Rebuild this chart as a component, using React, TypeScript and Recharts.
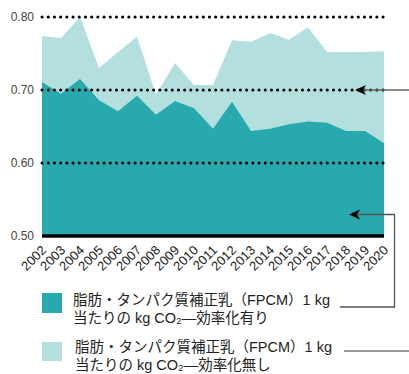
import React from 'react';
import { AreaChart, Area, XAxis, YAxis, ReferenceLine } from 'recharts';

const years = ['2002', '2003', '2004', '2005', '2006', '2007', '2008', '2009', '2010', '2011',
  '2012', '2013', '2014', '2015', '2016', '2017', '2018', '2019', '2020'];
const withEfficiency = [0.711, 0.695, 0.715, 0.686, 0.671, 0.692, 0.666, 0.685, 0.675, 0.647,
  0.684, 0.644, 0.647, 0.653, 0.657, 0.655, 0.644, 0.644, 0.627];
const withoutEfficiency = [0.774, 0.771, 0.8, 0.73, 0.752, 0.773, 0.694, 0.737, 0.707, 0.707,
  0.768, 0.766, 0.778, 0.769, 0.786, 0.752, 0.752, 0.752, 0.753];
const yTicks = [0.5, 0.6, 0.7, 0.8];
const gridLevels = [0.6, 0.7, 0.8];

const legendLine1 = '脂肪・タンパク質補正乳（FPCM）1 kg';
const legendWith = '当たりの kg CO₂—効率化有り';
const legendWithout = '当たりの kg CO₂—効率化無し';

const DARK = '#27a9ae';
const LIGHT = '#b3dfdf';
const FONT = '"Liberation Sans", Arial, "Noto Sans CJK JP", sans-serif';

const data = years.map((y, i) => ({
  year: y,
  withEff: withEfficiency[i],
  withoutEff: withoutEfficiency[i],
}));

const legendText: React.CSSProperties = {
  position: 'absolute',
  fontFamily: FONT,
  fontSize: 14.5,
  lineHeight: '18px',
  color: '#222',
  whiteSpace: 'nowrap',
};

// rotated year label, text ends just right of the tick
const YearTick = (props: any) => {
  const { x, y, payload } = props;
  return (
    <g transform={`translate(${x + 5},${y + 7})`}>
      <text x={0} y={0} textAnchor="end" transform="rotate(-45)" fontSize={13} fill="#222" fontFamily={FONT}>
        {payload.value}
      </text>
    </g>
  );
};

export default function App() {
  return (
    <div style={{ position: 'relative', width: 409, height: 374, overflow: 'hidden', fontFamily: FONT }}>
      <style>{'body{margin:0}'}</style>
      <AreaChart width={409} height={290} data={data} margin={{ top: 17, right: 25, left: 0, bottom: 0 }}>
        <YAxis
          domain={[0.5, 0.8]}
          ticks={yTicks}
          width={42}
          axisLine={false}
          tickLine={false}
          tickFormatter={(v: number) => v.toFixed(2)}
          tick={{ fontSize: 12, fill: '#444', fontFamily: FONT }}
        />
        <XAxis
          dataKey="year"
          interval={0}
          axisLine={false}
          tickLine={false}
          height={54}
          tick={<YearTick />}
        />
        <Area type="linear" dataKey="withoutEff" stroke="none" fill={LIGHT} fillOpacity={1} isAnimationActive={false} />
        <Area type="linear" dataKey="withEff" stroke="none" fill={DARK} fillOpacity={1} isAnimationActive={false} />
        {gridLevels.map(v => (
          <ReferenceLine key={v} y={v} stroke="#000" strokeWidth={3} strokeDasharray="0.1 6.1" strokeLinecap="round" />
        ))}
        <ReferenceLine y={0.5} stroke="#000" strokeWidth={3.5} />
      </AreaChart>

      <svg width={409} height={374} style={{ position: 'absolute', left: 0, top: 0, pointerEvents: 'none' }}>
        {/* arrow to the light area */}
        <line x1={363} y1={90} x2={409} y2={90} stroke="#666" strokeWidth={1.3} />
        <polygon points="355,90 366,85 363,90 366,95" fill="#000" />
        {/* arrow to the dark area */}
        <polyline points="358,214.5 394.5,214.5 394.5,307 340,307" fill="none" stroke="#555" strokeWidth={1.3} />
        <polygon points="349,214.5 360,209.5 357,214.5 360,219.5" fill="#000" />
        <line x1={344} y1={351} x2={409} y2={351} stroke="#333" strokeWidth={1.2} />
      </svg>

      <div style={{ position: 'absolute', left: 42, top: 293, width: 20, height: 20, background: DARK }} />
      <div style={{ ...legendText, left: 73, top: 291 }}>
        {legendLine1}<br />{legendWith}
      </div>
      <div style={{ position: 'absolute', left: 42, top: 342, width: 20, height: 19, background: LIGHT }} />
      <div style={{ ...legendText, left: 75, top: 338 }}>
        {legendLine1}<br />{legendWithout}
      </div>
    </div>
  );
}
